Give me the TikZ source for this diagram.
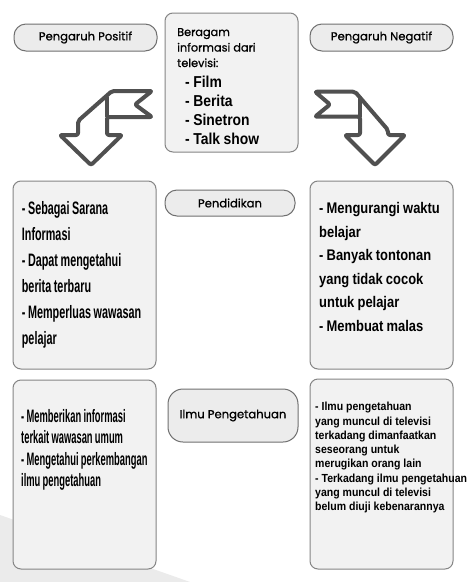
\documentclass[tikz,border=0pt]{standalone}
\usepackage{fontspec}
\newfontfamily\pillfont[FakeBold=0.8]{Poppins}
\newfontfamily\condTop[FakeStretch=0.88]{Liberation Sans}
\newfontfamily\condLA[FakeStretch=0.6]{Liberation Sans}
\newfontfamily\condRA[FakeStretch=0.84]{Liberation Sans}
\newfontfamily\condLB[FakeStretch=0.52]{Liberation Sans}
\newfontfamily\condRB[FakeStretch=0.9]{Liberation Sans}
\newcommand\ws[1]{\spaceskip=#1\relax\xspaceskip=#1\relax}
\definecolor{boxfill}{HTML}{F2F2F2}
\definecolor{boxline}{HTML}{858585}
\definecolor{pillfill}{HTML}{ECECEC}
\definecolor{pillline}{HTML}{707070}
\definecolor{arrowline}{HTML}{505050}
\definecolor{wedge}{HTML}{EBEBEB}
\tikzset{
  infobox/.style={draw=boxline, fill=boxfill, line width=1pt, rounded corners=8pt, inner sep=0pt},
  pill/.style={draw=pillline, fill=pillfill, line width=1pt, rounded corners=12pt, inner sep=0pt,
    font={\pillfont\fontsize{11.6}{14}\selectfont}},
  boxtext/.style={inner sep=0pt, anchor=base west},
  bigarrow/.style={draw=arrowline, fill=white, line width=4pt, line join=round, rounded corners=2pt},
  crease/.style={draw=arrowline, line width=4pt}
}
\begin{document}
\begin{tikzpicture}[x=1pt,y=-1pt]
\useasboundingbox (0,0) rectangle (471,582);
\fill[white] (0,0) rectangle (471,582);
% faint background wedge
\fill[wedge] (0,515) -- (190,582) -- (0,582) -- cycle;

% source box
\node[infobox, minimum width=133pt, minimum height=139pt] (src) at (231.5,82.5) {};
\node[boxtext, font={\pillfont\fontsize{11.3}{15.5}\selectfont}] (srcA) at (177,36)
  {\parbox[t]{120pt}{\raggedright Beragam\\informasi dari\\televisi:}};
\node[boxtext, font={\condTop\bfseries\fontsize{15.8}{19}\selectfont}] (srcB) at (185,87.7)
  {\parbox[t]{120pt}{\raggedright\ws{3.5pt}- Film\\- Berita\\- Sinetron\\- Talk show}};

% header pills
\node[pill, minimum width=143pt, minimum height=27pt] (pos) at (85.5,37.5) {Pengaruh Positif};
\node[pill, minimum width=143pt, minimum height=27pt] (neg) at (381.5,37.5) {Pengaruh Negatif};

% left arrow
\draw[bigarrow] (112,91) -- (152,91) -- (135,104.5) -- (152,117) -- (107,117) -- (107,135)
  -- (122,135) -- (91,165) -- (60,135) -- (78,135) -- (78,121) -- cycle;
\draw[crease] (107,117) -- (107,97);
% right arrow
\draw[bigarrow] (315,91.7) -- (355,91.7) -- (388,130) -- (388,135) -- (405,135) -- (375,165)
  -- (345,135) -- (360,135) -- (360,116.7) -- (315,116.7) -- (330,104.5) -- cycle;
\draw[crease] (360,116.7) -- (360,97);

% row 1
\node[infobox, minimum width=143pt, minimum height=188pt] (lp1) at (84.5,275) {};
\node[pill, minimum width=130pt, minimum height=26pt] (pend) at (230,203) {Pendidikan};
\node[infobox, minimum width=143pt, minimum height=188pt] (rp1) at (381.5,275) {};
\node[boxtext, font={\condLA\bfseries\fontsize{18}{26}\selectfont}] (lp1t) at (21.7,214.5)
  {\parbox[t]{200pt}{\raggedright\ws{2.6pt}- Sebagai Sarana\\Informasi\\- Dapat mengetahui\\berita terbaru\\- Memperluas wawasan\\pelajar}};
\node[boxtext, font={\condRA\bfseries\fontsize{15.4}{23.5}\selectfont}] (rp1t) at (319,213.5)
  {\parbox[t]{200pt}{\raggedright\ws{3.2pt}- Mengurangi waktu\\belajar\\- Banyak tontonan\\yang tidak cocok\\untuk pelajar\\- Membuat malas}};

% row 2
\node[infobox, minimum width=143pt, minimum height=189pt] (lp2) at (84.5,474.5) {};
\node[pill, rounded corners=15pt, minimum width=130pt, minimum height=53pt] (ilmu) at (233,415.5) {Ilmu Pengetahuan};
\node[infobox, minimum width=143pt, minimum height=190pt] (rp2) at (381.5,474) {};
\node[boxtext, font={\condLB\bfseries\fontsize{18}{21.5}\selectfont}] (lp2t) at (21,422.3)
  {\parbox[t]{200pt}{\raggedright\ws{2.3pt}- Memberikan informasi\\terkait wawasan umum\\- Mengetahui perkembangan\\ilmu pengetahuan}};
\node[boxtext, font={\condRB\bfseries\fontsize{11.7}{14.3}\selectfont}] (rp2t) at (315,410.7)
  {\parbox[t]{200pt}{\raggedright\ws{2.9pt}- Ilmu pengetahuan\\yang muncul di televisi\\terkadang dimanfaatkan\\seseorang untuk\\merugikan orang lain\\- Terkadang ilmu pengetahuan\\yang muncul di televisi\\belum diuji kebenarannya}};
\end{tikzpicture}
\end{document}
